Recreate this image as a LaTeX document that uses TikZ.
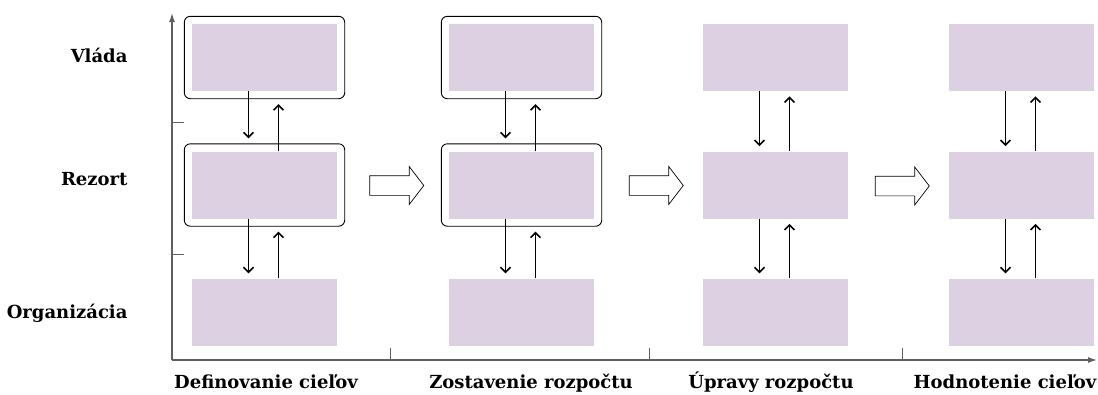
\documentclass[tikz,border=0pt]{standalone}
\usepackage{fontspec}
\setmainfont{DejaVu Serif}
\usetikzlibrary{arrows.meta,fit,shapes.arrows}
\definecolor{lila}{RGB}{220,208,226}
\definecolor{osa}{RGB}{95,95,95}

\begin{document}
\begin{tikzpicture}[x=1pt,y=-1pt,
  pole/.style={fill=lila, minimum width=145pt, minimum height=67pt, inner sep=0pt},
  ram/.style={draw, rounded corners=6pt, inner sep=7.5pt, line width=0.9pt},
  nic/.style={inner sep=0pt},
  sipka/.style={-{Straight Barb[length=5pt,width=10pt,line width=1.5pt]}, line width=0.9pt, shorten >=5pt},
  blok/.style={single arrow, draw, line width=0.7pt, minimum height=54pt, inner xsep=0pt, inner ysep=9.5pt,
    single arrow head extend=9pt, single arrow tip angle=105, single arrow head indent=0pt},
  popis/.style={font=\bfseries\fontsize{18}{20}\selectfont, anchor=base},
  uroven/.style={font=\bfseries\fontsize{18}{20}\selectfont, anchor=base east}]
  \useasboundingbox (0,0) rectangle (1098,394);

  % osi
  \coordinate (O) at (172,360);
  \coordinate (Yk) at (172,13);
  \coordinate (Xk) at (1097,360);
  \draw[osa, line width=1.3pt, -{Latex[length=9pt,width=6pt]}] (O) -- (Yk);
  \draw[osa, line width=1.3pt, -{Latex[length=9pt,width=6pt]}] (O) -- (Xk);
  \foreach \y in {122,254}
    \draw[osa, line width=0.9pt] (172,\y) -- (184,\y);
  \foreach \x in {390,649,902}
    \draw[osa, line width=0.9pt] (\x,360) -- (\x,348);

  % urovne
  \node[uroven] (lv) at (131,62) {Vláda};
  \node[uroven] (lr) at (131,185) {Rezort};
  \node[uroven] (lo) at (131,318) {Organizácia};

  % stlpce
  \foreach \i/\x/\r in {1/264.5/ram, 2/521.5/ram, 3/775.5/nic, 4/1021.5/nic} {
    \node[pole] (v\i) at (\x,57.5) {};
    \node[pole] (r\i) at (\x,185) {};
    \node[pole] (o\i) at (\x,312) {};
    \node[\r, fit=(v\i)] (rv\i) {};
    \node[\r, fit=(r\i)] (rr\i) {};
    \draw[sipka] ([xshift=-16pt]v\i.south) -- ([xshift=-16pt]rr\i.north);
    \draw[sipka] ([xshift=14pt]r\i.north) -- ([xshift=14pt]rv\i.south);
    \draw[sipka] ([xshift=-16pt]r\i.south) -- ([xshift=-16pt]o\i.north);
    \draw[sipka] ([xshift=14pt]o\i.north) -- ([xshift=14pt]rr\i.south);
  }

  % prechody
  \node[blok] (b1) at (393,185.5) {};
  \node[blok] (b2) at (652.5,185.5) {};
  \node[blok] (b3) at (898.5,186) {};

  % fazy
  \node[popis] (f1) at (266,388) {Definovanie cieľov};
  \node[popis] (f2) at (531,388) {Zostavenie rozpočtu};
  \node[popis] (f3) at (771,388) {Úpravy rozpočtu};
  \node[popis] (f4) at (1005,388) {Hodnotenie cieľov};
\end{tikzpicture}
\end{document}
